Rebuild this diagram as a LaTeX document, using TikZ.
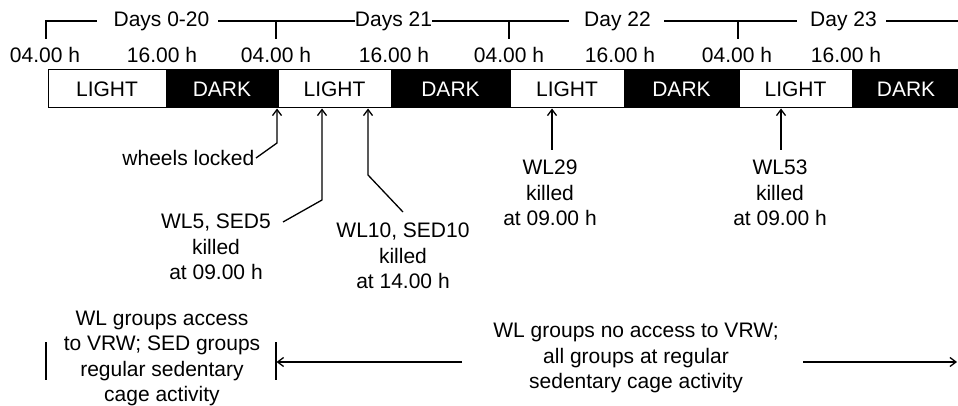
\documentclass[tikz,border=0pt]{standalone}
\usepackage{fontspec}
\setmainfont{Liberation Sans}
\usetikzlibrary{arrows.meta}
\begin{document}
\begin{tikzpicture}[x=1pt,y=-1pt,
  font=\fontsize{21}{25.5}\selectfont,
  line width=1.3pt,
  >={Straight Barb[length=6pt,width=9pt]},
  seg/.style={draw=black,line width=1pt,minimum height=38pt,inner sep=0pt,anchor=center},
  lightseg/.style={seg,fill=white,text=black},
  darkseg/.style={seg,fill=black,text=white},
  lbl/.style={inner sep=1pt,align=center},
]
\useasboundingbox (0,0) rectangle (958,406);

% light/dark bar
\node[lightseg,minimum width=118pt] (l1) at (107,89) {LIGHT};
\node[darkseg,minimum width=112pt] (d1) at (222,89) {DARK};
\node[lightseg,minimum width=113pt] (l2) at (334.5,89) {LIGHT};
\node[darkseg,minimum width=119pt] (d2) at (450.5,89) {DARK};
\node[lightseg,minimum width=114pt] (l3) at (567,89) {LIGHT};
\node[darkseg,minimum width=115pt] (d3) at (681.5,89) {DARK};
\node[lightseg,minimum width=113pt] (l4) at (795.5,89) {LIGHT};
\node[darkseg,minimum width=108pt] (d4) at (906,89) {DARK};

% day timeline
\node[lbl] (t0) at (161.5,21) {Days 0-20};
\node[lbl] (t1) at (393.5,21) {Days 21};
\node[lbl] (t2) at (617.5,21) {Day 22};
\node[lbl] (t3) at (843.5,21) {Day 23};
\draw (46,39) -- (46,21) -- (97,21);
\draw (218,21) -- (355,21);
\draw (276,21) -- (276,39);
\draw (432,21) -- (569,21);
\draw (509,21) -- (509,39);
\draw (664,21) -- (797,21);
\draw (738,21) -- (738,39);
\draw (886,21) -- (958,21);

% hour labels
\node[lbl] (h1) at (45,55) {04.00 h};
\node[lbl] (h2) at (162,55) {16.00 h};
\node[lbl] (h3) at (276,55) {04.00 h};
\node[lbl] (h4) at (394,55) {16.00 h};
\node[lbl] (h5) at (509,55) {04.00 h};
\node[lbl] (h6) at (620,55) {16.00 h};
\node[lbl] (h7) at (737,55) {04.00 h};
\node[lbl] (h8) at (846,55) {16.00 h};

% event arrows
\coordinate (a1) at (277,108.5);
\coordinate (a2) at (322,108.5);
\coordinate (a3) at (368,108.5);
\coordinate (a4) at (552,108.5);
\coordinate (a5) at (781,108.5);

\node[lbl,anchor=east] (e1) at (256,158) {wheels locked};
\draw[->] (e1.east) -- (277,143) -- (a1);

\node[lbl] (e2) at (216,247) {WL5, SED5\\killed\\at 09.00 h};
\draw[->] (283,222) -- (322,200) -- (a2);

\node[lbl] (e3) at (403,256) {WL10, SED10\\killed\\at 14.00 h};
\draw[->] (403,212) -- (368,175) -- (a3);

\node[lbl] (e4) at (550,193) {WL29\\killed\\at 09.00 h};
\draw[->] (552,150) -- (a4);

\node[lbl] (e5) at (780,193) {WL53\\killed\\at 09.00 h};
\draw[->] (781,150) -- (a5);

% bottom periods
\node[lbl] (p1) at (162,358.5) {WL groups access\\to VRW; SED groups\\regular sedentary\\cage activity};
\node[lbl] (p2) at (636,358) {WL groups no access to VRW;\\all groups at regular\\sedentary cage activity};
\draw (46,342) -- (46,380);
\draw (276,342) -- (276,380);
\coordinate (b1) at (276.5,362);
\coordinate (b2) at (957,362);
\draw[->] (462,362) -- (b1);
\draw[->] (803,362) -- (b2);
\end{tikzpicture}
\end{document}
